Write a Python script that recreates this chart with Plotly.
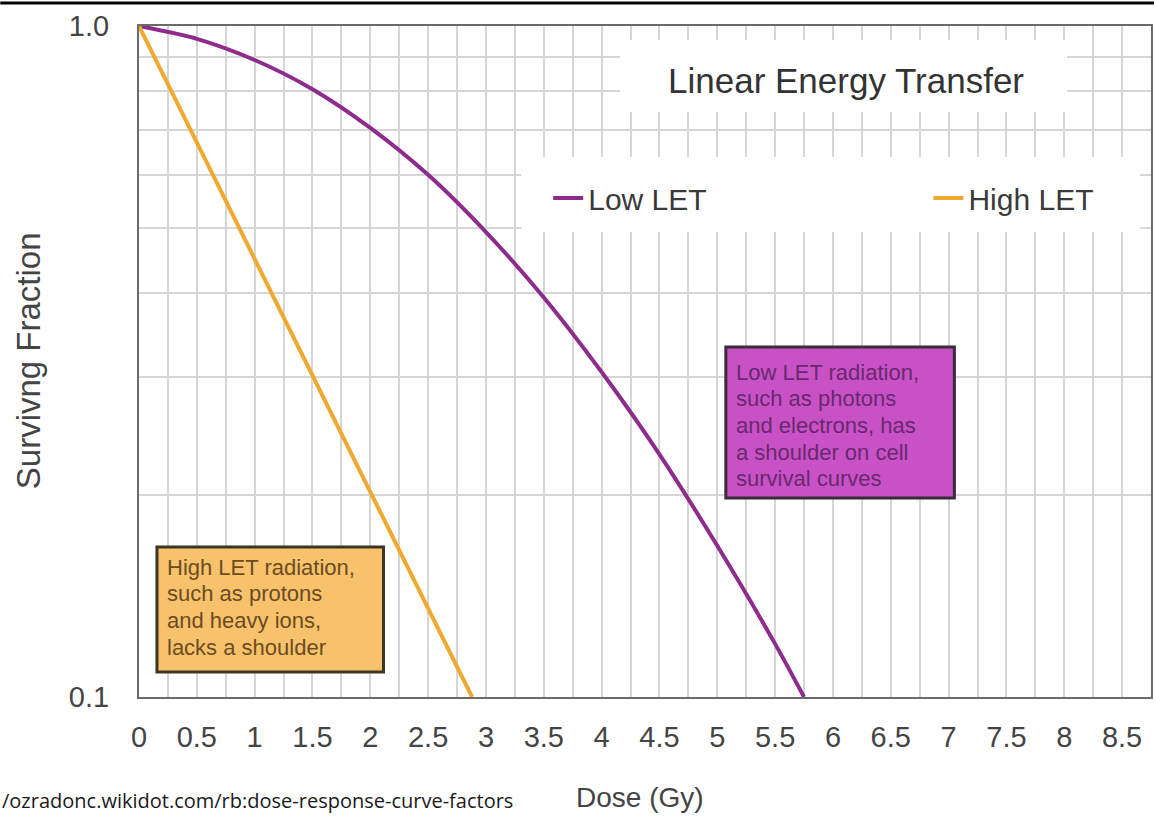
import plotly.graph_objects as go

# Data
dose_low = [0, 0.5, 1.0, 1.5, 2.0, 2.5, 3.0, 3.5, 4.0, 4.5, 5.0, 5.5, 5.75]
sf_low = [1.0, 0.957, 0.890, 0.805, 0.705, 0.600, 0.493, 0.394, 0.305, 0.230, 0.168, 0.120, 0.100]

dose_high = [0, 0.5, 1.0, 1.5, 2.0, 2.5, 2.88]
sf_high = [1.0, 0.67, 0.449, 0.301, 0.202, 0.1355, 0.100]

x_tickvals = [i * 0.25 for i in range(0, 35)]
x_ticktext = [("%g" % v) if abs(v * 2 - round(v * 2)) < 1e-9 else "" for v in x_tickvals]
y_tickvals = [0.1, 0.2, 0.3, 0.4, 0.5, 0.6, 0.7, 0.8, 0.9, 1.0]
y_ticktext = ["0.1", "", "", "", "", "", "", "", "", "1.0"]

low_note = ["Low LET radiation,", "such as photons", "and electrons, has",
            "a shoulder on cell", "survival curves"]
high_note = ["High LET radiation,", "such as protons", "and heavy ions,", "lacks a shoulder"]

FONT = "Liberation Sans, Arial, sans-serif"
GRID = "#d6d6d6"
TXT = "#444444"

# pixel -> paper helpers (plot area: x 139..1153, y 26..697)
def px(p):
    return (p - 139) / 1014.0

def py(p):
    return (697 - p) / 671.0

fig = go.Figure()
fig.add_trace(go.Scatter(x=dose_low, y=sf_low, mode="lines", name="Low LET", legend="legend",
                         line=dict(color="#8e2c8e", width=4, shape="spline", smoothing=0.8)))
fig.add_trace(go.Scatter(x=dose_high, y=sf_high, mode="lines", name="High LET", legend="legend2",
                         line=dict(color="#f0a830", width=4)))

legend_common = dict(bgcolor="rgba(0,0,0,0)", font=dict(size=30, color="#3a3a3a", family=FONT),
                     yanchor="middle", xanchor="left", borderwidth=0)

fig.update_layout(
    width=1156, height=816,
    margin=dict(l=139, r=3, t=26, b=119),
    paper_bgcolor="white", plot_bgcolor="white",
    font=dict(family=FONT, color=TXT),
    showlegend=True,
    legend=dict(x=px(549), y=py(198), **legend_common),
    legend2=dict(x=px(930), y=py(198), **legend_common),
    xaxis=dict(range=[0, 8.75], tickmode="array", tickvals=x_tickvals, ticktext=x_ticktext,
               showgrid=True, gridcolor=GRID, gridwidth=1.5, zeroline=False,
               showline=True, linecolor="#6a6a6a", linewidth=2, mirror=True,
               ticks="", tickfont=dict(size=29, color=TXT), ticklabelstandoff=13),
    yaxis=dict(type="log", range=[-1, 0], tickmode="array", tickvals=y_tickvals, ticktext=y_ticktext,
               showgrid=True, gridcolor=GRID, gridwidth=1.5, zeroline=False,
               showline=True, linecolor="#6a6a6a", linewidth=2, mirror=True,
               ticks="", tickfont=dict(size=29, color=TXT), ticklabelstandoff=22),
)

shapes = [
    # white panel behind title
    dict(type="rect", xref="paper", yref="paper", x0=px(621), x1=px(1069), y0=py(112), y1=py(40),
         fillcolor="white", line=dict(width=0), layer="above"),
    # white panel behind legend
    dict(type="rect", xref="paper", yref="paper", x0=px(522), x1=px(1142), y0=py(232), y1=py(157),
         fillcolor="white", line=dict(width=0), layer="above"),
    # note boxes
    dict(type="rect", xref="paper", yref="paper", x0=px(727), x1=px(956), y0=py(498), y1=py(347),
         fillcolor="#c951c6", line=dict(color="#3a2a3a", width=3), layer="above"),
    dict(type="rect", xref="paper", yref="paper", x0=px(157), x1=px(384), y0=py(672), y1=py(547),
         fillcolor="#f8c26c", line=dict(color="#3e3424", width=3), layer="above"),
    # top black border line
    dict(type="line", xref="paper", yref="paper", x0=px(0), x1=px(1156), y0=py(3), y1=py(3),
         line=dict(color="black", width=3)),
]
fig.update_layout(shapes=shapes)

annotations = [
    dict(text="Linear Energy Transfer", xref="paper", yref="paper", x=px(847), y=py(80),
         xanchor="center", yanchor="middle", showarrow=False,
         font=dict(size=35, color="#333333", family=FONT)),
    dict(text="Dose (Gy)", xref="paper", yref="paper", x=px(641), y=py(797),
         xanchor="center", yanchor="middle", showarrow=False,
         font=dict(size=28, color=TXT, family=FONT)),
    dict(text="Survivng Fraction", xref="paper", yref="paper", x=px(28), y=py(361),
         xanchor="center", yanchor="middle", textangle=-90, showarrow=False,
         font=dict(size=33, color=TXT, family=FONT)),
    dict(text="/ozradonc.wikidot.com/rb:dose-response-curve-factors", xref="paper", yref="paper",
         x=px(0), y=py(800), xanchor="left", yanchor="middle", showarrow=False,
         font=dict(size=20, color="#1a1a1a", family="Open Sans, sans-serif")),
]
for i, line in enumerate(low_note):
    annotations.append(dict(text=line, xref="paper", yref="paper", x=px(735), y=py(372 + 26.7 * i),
                            xanchor="left", yanchor="middle", showarrow=False,
                            font=dict(size=22, color="#6a2870", family=FONT)))
for i, line in enumerate(high_note):
    annotations.append(dict(text=line, xref="paper", yref="paper", x=px(165), y=py(567 + 26.7 * i),
                            xanchor="left", yanchor="middle", showarrow=False,
                            font=dict(size=22, color="#6b4c22", family=FONT)))
fig.update_layout(annotations=annotations)

fig.write_html("out.html", config={"displayModeBar": False},
               post_script="document.body.style.margin='0';document.body.style.padding='0';")
